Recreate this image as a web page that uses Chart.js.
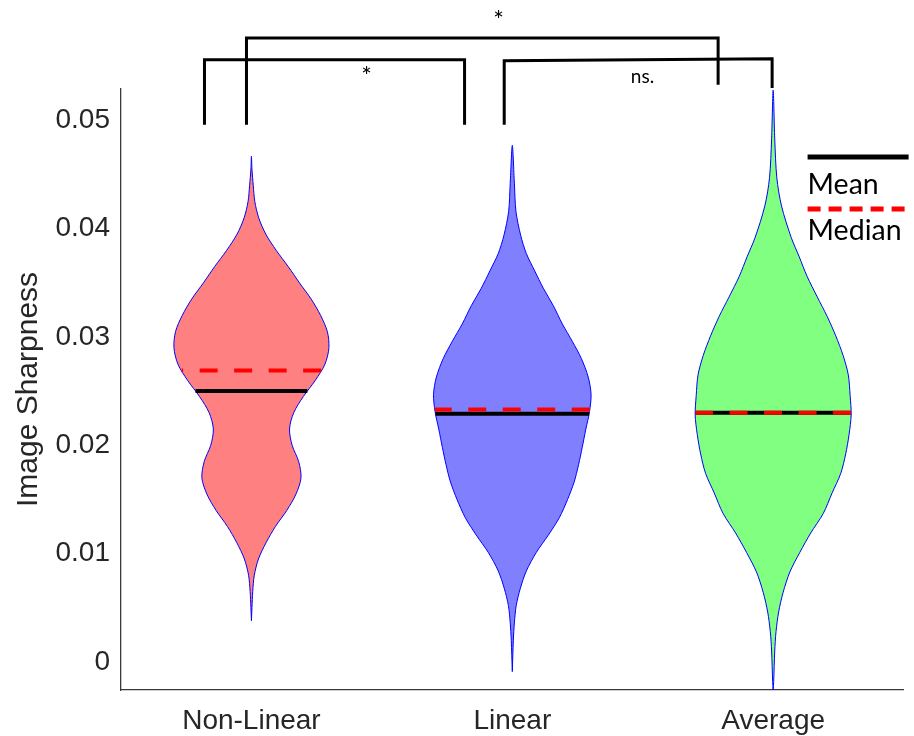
<!DOCTYPE html>
<html><head><meta charset="utf-8">
<script src="https://cdn.jsdelivr.net/npm/chart.js@4.4.0/dist/chart.umd.min.js"></script>
<style>html,body{margin:0;padding:0;background:#fff;}canvas{display:block;}</style>
</head><body>
<canvas id="c" width="914" height="736"></canvas>
<script>
// ---------- data ----------
const categories = ['Non-Linear', 'Linear', 'Average'];
const yTickValues = [0, 0.01, 0.02, 0.03, 0.04, 0.05];
const yTickLabels = ['0', '0.01', '0.02', '0.03', '0.04', '0.05'];

// violin outlines: sharpness levels and density half-widths (category units)
const nonLinearLevels = [0.0038,0.005,0.0065,0.008,0.0095,0.011,0.0125,0.014,0.0155,0.017,0.0185,0.020,0.0215,0.023,0.0245,0.026,0.0275,0.029,0.0305,0.032,0.0335,0.035,0.0365,0.038,0.0395,0.041,0.0425,0.044,0.0455,0.0467];
const nonLinearWidths = [0,0.002,0.005,0.011,0.027,0.056,0.092,0.136,0.171,0.190,0.181,0.156,0.146,0.162,0.199,0.245,0.282,0.297,0.291,0.265,0.229,0.184,0.141,0.095,0.055,0.028,0.013,0.007,0.002,0];

const linearLevels = [-0.0009,0.0020,0.0036,0.0052,0.0068,0.0084,0.0101,0.0117,0.0133,0.0150,0.0166,0.0182,0.0198,0.0215,0.0231,0.0247,0.0263,0.0280,0.0296,0.0312,0.0329,0.0345,0.0361,0.0377,0.0394,0.0416,0.0442,0.0477];
const linearWidths = [0,0.004,0.008,0.015,0.031,0.054,0.092,0.138,0.180,0.212,0.237,0.254,0.268,0.282,0.296,0.302,0.291,0.265,0.230,0.192,0.157,0.119,0.086,0.054,0.032,0.014,0.008,0];

const averageLevels = [-0.0026,-0.0018,0.0010,0.0028,0.0046,0.0064,0.0083,0.0101,0.0119,0.0137,0.0156,0.0174,0.0192,0.0210,0.0228,0.0246,0.0265,0.0283,0.0301,0.0319,0.0337,0.0356,0.0374,0.0392,0.0421,0.0447,0.0483,0.0528];
const averageWidths = [0,0.002,0.006,0.011,0.021,0.038,0.064,0.102,0.144,0.192,0.226,0.259,0.278,0.291,0.299,0.295,0.288,0.268,0.240,0.207,0.169,0.130,0.100,0.069,0.032,0.014,0.006,0];

const meanValues = [0.0250, 0.0229, 0.0230];
const medianValues = [0.0269, 0.0233, 0.0230];

// significance brackets
const bracketLeftX = [0.820, 0.981, 1.969];
const bracketRightX = [1.817, 2.789, 2.996];
const bracketTopLeft = [0.0556, 0.0576, 0.0555];
const bracketTopRight = [0.0556, 0.0576, 0.0557];
const bracketLeftFoot = [0.0496, 0.0496, 0.0496];
const bracketRightFoot = [0.0496, 0.0533, 0.0530];
const bracketLabels = ['*', '*', 'ns.'];
const bracketLabelX = [1.441, 1.947, 2.499];
const bracketLabelY = [0.0546, 0.0597, 0.0540];

// ---------- helpers ----------
const levelSets = [nonLinearLevels, linearLevels, averageLevels];
const widthSets = [nonLinearWidths, linearWidths, averageWidths];
const fills = ['rgb(255,128,128)', 'rgb(128,128,255)', 'rgb(128,255,128)'];

function violinPoints(center, levels, widths) {
  const pts = [];
  for (let i = 0; i < levels.length; i++) pts.push({x: center + widths[i], y: levels[i]});
  for (let i = levels.length - 2; i >= 0; i--) pts.push({x: center - widths[i], y: levels[i]});
  return pts;
}
function widthAt(levels, widths, v) {
  for (let i = 0; i < levels.length - 1; i++) {
    if (v >= levels[i] && v <= levels[i + 1]) {
      const t = (v - levels[i]) / (levels[i + 1] - levels[i]);
      return widths[i] + t * (widths[i + 1] - widths[i]);
    }
  }
  return 0;
}

const datasets = [];
categories.forEach((cat, k) => {
  const c = k + 1;
  datasets.push({
    label: cat, data: violinPoints(c, levelSets[k], widthSets[k]),
    showLine: true, fill: 'shape', backgroundColor: fills[k],
    borderColor: '#0000ff', borderWidth: 1, pointRadius: 0, tension: 0.3, order: 5
  });
});
categories.forEach((cat, k) => {
  const c = k + 1;
  const wm = widthAt(levelSets[k], widthSets[k], meanValues[k]);
  datasets.push({
    label: cat + ' mean', data: [{x: c - wm, y: meanValues[k]}, {x: c + wm, y: meanValues[k]}],
    showLine: true, borderColor: '#000', borderWidth: 4, pointRadius: 0, order: 3
  });
});
categories.forEach((cat, k) => {
  const c = k + 1;
  const wd = widthAt(levelSets[k], widthSets[k], medianValues[k]);
  datasets.push({
    label: cat + ' median', data: [{x: c + wd, y: medianValues[k]}, {x: c - wd, y: medianValues[k]}],
    showLine: true, borderColor: '#ff0000', borderWidth: 4, borderDash: [18, 16.5], pointRadius: 0, order: 2
  });
});
bracketLeftX.forEach((lx, k) => {
  datasets.push({
    label: 'bracket ' + k,
    data: [{x: lx, y: bracketLeftFoot[k]}, {x: lx, y: bracketTopLeft[k]}, {x: bracketRightX[k], y: bracketTopRight[k]}, {x: bracketRightX[k], y: bracketRightFoot[k]}],
    showLine: true, borderColor: '#000', borderWidth: 3, pointRadius: 0, clip: false, order: 1,
    borderJoinStyle: 'miter'
  });
});

const annotPlugin = {
  id: 'annot',
  afterDraw(chart) {
    const ctx = chart.ctx, xs = chart.scales.x, ys = chart.scales.y, a = chart.chartArea;
    ctx.save();
    ctx.fillStyle = '#000';
    ctx.textAlign = 'center';
    ctx.textBaseline = 'middle';
    bracketLabels.forEach((t, k) => {
      ctx.font = (t === '*' ? '25px Lato' : '19px Lato');
      const dy = t === '*' ? 6 : 0;
      ctx.fillText(t, xs.getPixelForValue(bracketLabelX[k]), ys.getPixelForValue(bracketLabelY[k]) + dy);
    });
    // legend
    const lx0 = a.right - 96, lx1 = a.right + 5;
    ctx.lineWidth = 5;
    ctx.strokeStyle = '#000';
    ctx.beginPath(); ctx.moveTo(lx0, a.top + 68); ctx.lineTo(lx1, a.top + 68); ctx.stroke();
    ctx.strokeStyle = '#ff0000';
    ctx.setLineDash([13, 8]);
    ctx.beginPath(); ctx.moveTo(lx0, a.top + 120); ctx.lineTo(lx1, a.top + 120); ctx.stroke();
    ctx.setLineDash([]);
    ctx.textAlign = 'left';
    ctx.textBaseline = 'alphabetic';
    ctx.font = '28.5px Lato';
    ctx.fillText('Mean', lx0, a.top + 105);
    ctx.fillText('Median', lx0, a.top + 151);
    ctx.restore();
  }
};

new Chart(document.getElementById('c'), {
  type: 'scatter',
  data: {datasets},
  plugins: [annotPlugin],
  options: {
    responsive: false, animation: false, devicePixelRatio: 1,
    layout: {padding: {top: 89, right: 10.4, left: 0, bottom: 0}},
    plugins: {legend: {display: false}, tooltip: {enabled: false}},
    scales: {
      x: {
        type: 'linear', min: 0.5, max: 3.5,
        grid: {display: false, drawTicks: false},
        border: {display: true, color: '#3a3a3a', width: 1.3},
        ticks: {color: '#262626', font: {family: 'Liberation Sans', size: 28}, padding: 14,
                callback: v => categories[Math.round(v) - 1]},
        afterBuildTicks: s => { s.ticks = categories.map((c, i) => ({value: i + 1})); },
        afterFit: s => { s.height = 46; }
      },
      y: {
        type: 'linear', min: -0.0026, max: 0.0529,
        grid: {display: false, drawTicks: false},
        border: {display: true, color: '#3a3a3a', width: 1.3},
        ticks: {color: '#262626', font: {family: 'Liberation Sans', size: 28}, padding: 11,
                callback: (v) => { const i = yTickValues.findIndex(t => Math.abs(t - v) < 1e-9); return i >= 0 ? yTickLabels[i] : ''; }},
        afterBuildTicks: s => { s.ticks = yTickValues.map(v => ({value: v})); },
        title: {display: true, text: 'Image Sharpness', color: '#262626', font: {family: 'Liberation Sans', size: 30}, padding: {top: 11, bottom: 0}},
        afterFit: s => { s.width = 121; }
      }
    }
  }
});
</script>
</body></html>
